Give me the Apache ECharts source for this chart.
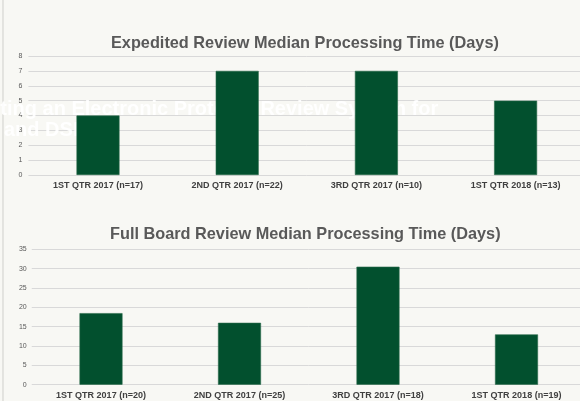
<!DOCTYPE html>
<html>
<head>
<meta charset="utf-8">
<script src="https://cdn.jsdelivr.net/npm/echarts@6/dist/echarts.min.js"></script>
<style>
  html, body { margin: 0; padding: 0; background: #f8f8f4; overflow: hidden; }
  /* the plot area runs a few pixels past the right edge of the window */
  #chart { width: 592px; height: 401px; }
</style>
</head>
<body>
<div id="chart"></div>
<script>
// Quarterly median processing times (days)
const expeditedCategories = ['1ST QTR 2017 (n=17)', '2ND QTR 2017 (n=22)', '3RD QTR 2017 (n=10)', '1ST QTR 2018 (n=13)'];
const expeditedDays = [4, 7, 7, 5];

const fullBoardCategories = ['1ST QTR 2017 (n=20)', '2ND QTR 2017 (n=25)', '3RD QTR 2017 (n=18)', '1ST QTR 2018 (n=19)'];
const fullBoardDays = [18.5, 16, 30.5, 13];

const titles = ['Expedited Review Median Processing Time (Days)', 'Full Board Review Median Processing Time (Days)'];

const barColor = '#02502e';
const textGray = '#595959';
const gridGray = '#d9d9d9';
const font = 'Liberation Sans, Arial, sans-serif';

const chart = echarts.init(document.getElementById('chart'));

function catAxis(gridIndex, data) {
  return {
    type: 'category', gridIndex, data,
    axisLine: { show: false }, axisTick: { show: false },
    axisLabel: { color: '#404040', fontSize: 9, fontWeight: 'bold', fontFamily: font, margin: 6, interval: 0 }
  };
}
function valAxis(gridIndex, max, interval, margin) {
  return {
    type: 'value', gridIndex, min: 0, max, interval,
    axisLine: { show: false }, axisTick: { show: false },
    axisLabel: { color: textGray, fontSize: 7, fontFamily: font, margin },
    splitLine: { lineStyle: { color: gridGray, width: 1 } }
  };
}

const titleStyle = { color: textGray, fontSize: 16.3, fontWeight: 'bold', fontFamily: font };

chart.setOption({
  backgroundColor: '#f8f8f4',
  animation: false,
  title: [
    { text: titles[0], left: 106, top: 31, textStyle: titleStyle },
    { text: titles[1], left: 105, top: 222, textStyle: titleStyle }
  ],
  graphic: [
    { type: 'line', z: 1, shape: { x1: 3, y1: 0, x2: 3, y2: 401 }, style: { stroke: '#cfcfcb', lineWidth: 1 } },
    { type: 'text', z: 1, left: -93, top: 99,
      style: { text: 'Implementing an Electronic Protocol Review System for', fill: 'rgba(255,255,255,0.92)', font: 'bold 20px ' + font } },
    { type: 'text', z: 1, left: 4, top: 120,
      style: { text: 'and DSI', fill: 'rgba(255,255,255,0.92)', font: 'bold 20px ' + font } }
  ],
  grid: [
    { left: 28.4, width: 556.8, top: 56, bottom: 226, containLabel: false },
    { left: 31.75, width: 554, top: 249.3, bottom: 16.3, containLabel: false }
  ],
  xAxis: [catAxis(0, expeditedCategories), catAxis(1, fullBoardCategories)],
  yAxis: [valAxis(0, 8, 1, 6), valAxis(1, 35, 5, 5)],
  series: [
    { type: 'bar', xAxisIndex: 0, yAxisIndex: 0, data: expeditedDays, barWidth: 43, z: 3,
      itemStyle: { color: barColor, borderColor: '#2a6a4a', borderWidth: 0.6 } },
    { type: 'bar', xAxisIndex: 1, yAxisIndex: 1, data: fullBoardDays, barWidth: 43, z: 3,
      itemStyle: { color: barColor, borderColor: '#2a6a4a', borderWidth: 0.6 } }
  ]
});
</script>
</body>
</html>
